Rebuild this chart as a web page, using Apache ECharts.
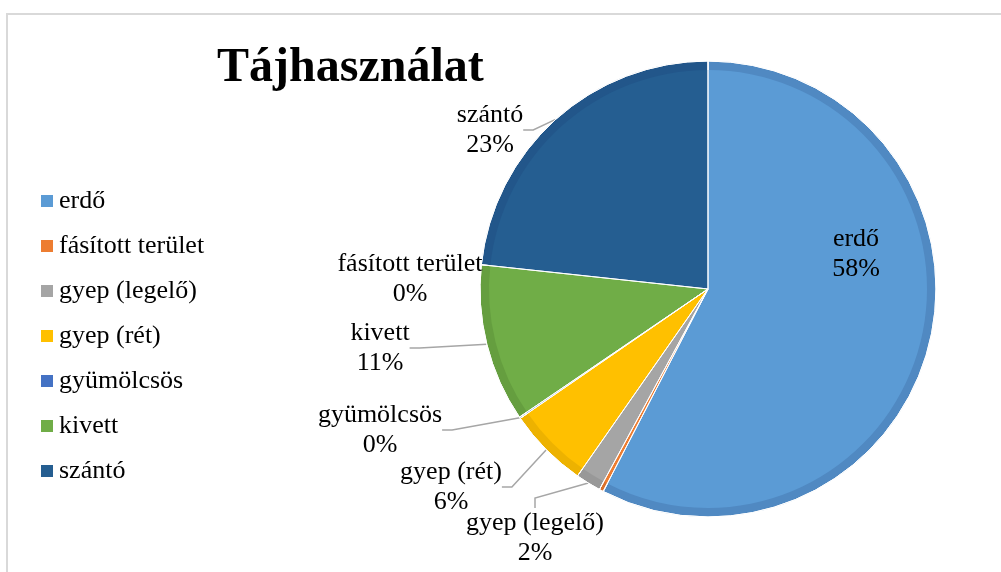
<!DOCTYPE html>
<html>
<head>
<meta charset="utf-8">
<script src="https://cdn.jsdelivr.net/npm/echarts@6/dist/echarts.min.js"></script>
<style>
  html, body { margin: 0; padding: 0; background: #fff; }
  #chart { width: 1001px; height: 572px; }
</style>
</head>
<body>
<div id="chart"></div>
<script>
// Land-use shares (percent of total area)
const categories = ['erdő', 'fásított terület', 'gyep (legelő)', 'gyep (rét)', 'gyümölcsös', 'kivett', 'szántó'];
const values = [57.6, 0.3, 1.8, 5.7, 0.1, 11.2, 23.3];

// Slice fills and the darker shade used for each slice's rim
const fillColors = ['#5B9BD5', '#ED7D31', '#A5A5A5', '#FFC000', '#4472C4', '#70AD47', '#255E91'];
const rimColors  = ['#5089C2', '#D9702B', '#989898', '#EDB200', '#3D67B2', '#659E3F', '#22568A'];

// Where each data label sits (centre of the text block)
const labelSpots = [
  [856, 254], [410, 279], [535, 538], [451, 487], [380, 430], [380, 348], [490, 130]
];

const serif = 'Liberation Serif';
const center = [708, 289];
const outerR = 228;
const rim = 9;

const rimData = categories.map((name, i) => ({
  name,
  value: values[i],
  itemStyle: { color: rimColors[i] },
  labelLine: { show: i !== 0 && i !== 1 }
}));

const fillData = categories.map((name, i) => ({
  name,
  value: values[i],
  itemStyle: { color: fillColors[i] }
}));

const edgeData = categories.map((name, i) => ({ name, value: values[i] }));

const legendText = { fontFamily: serif, fontSize: 26, color: '#000000' };

const chart = echarts.init(document.getElementById('chart'), null, { renderer: 'canvas' });

chart.setOption({
  backgroundColor: '#ffffff',
  animation: false,
  textStyle: { fontFamily: serif },
  title: {
    text: 'Tájhasználat',
    left: 212,
    top: 40,
    textStyle: { fontFamily: serif, fontWeight: 'bold', fontSize: 48, color: '#000' }
  },
  graphic: [{
    type: 'rect',
    silent: true,
    shape: { x: 7, y: 14, width: 1200, height: 800 },
    style: { fill: null, stroke: '#D9D9D9', lineWidth: 2 }
  }],
  legend: {
    orient: 'vertical',
    left: 34,
    top: 183,
    itemWidth: 14,
    itemHeight: 14,
    itemGap: 19,
    icon: 'rect',
    selectedMode: false,
    textStyle: legendText,
    data: categories.map((name, i) => ({
      name,
      itemStyle: { color: fillColors[i] },
      textStyle: legendText
    }))
  },
  series: [
    {
      // full-size slices in the darker rim shade; they carry the labels
      type: 'pie',
      center,
      radius: [0, outerR],
      startAngle: 90,
      percentPrecision: 0,
      data: rimData,
      itemStyle: { borderColor: '#ffffff', borderWidth: 1 },
      emphasis: { disabled: true },
      label: {
        show: true,
        position: 'outside',
        formatter: '{b}\n{d}%',
        fontFamily: serif,
        fontSize: 26,
        lineHeight: 30,
        color: '#000',
        overflow: 'none'
      },
      labelLine: {
        show: true,
        length: 10,
        length2: 10,
        lineStyle: { color: '#A6A6A6', width: 1.5 }
      },
      labelLayout: (p) => {
        const spot = labelSpots[p.dataIndex];
        const layout = { x: spot[0], y: spot[1], align: 'center', verticalAlign: 'middle' };
        // the forest label sits inside its slice and needs room for both lines
        if (p.dataIndex === 0) layout.width = 120;
        return layout;
      }
    },
    {
      // lighter inner face of each slice, leaving the darker rim visible
      type: 'pie',
      silent: true,
      center,
      radius: [0, outerR - rim],
      startAngle: 90,
      data: fillData,
      itemStyle: { borderWidth: 0 },
      label: { show: false },
      labelLine: { show: false },
      emphasis: { disabled: true }
    },
    {
      // thin white separators between neighbouring slices
      type: 'pie',
      silent: true,
      center,
      radius: [0, outerR],
      startAngle: 90,
      data: edgeData,
      itemStyle: { color: 'rgba(0,0,0,0)', borderColor: '#ffffff', borderWidth: 1 },
      label: { show: false },
      labelLine: { show: false },
      emphasis: { disabled: true }
    }
  ]
});
</script>
</body>
</html>
